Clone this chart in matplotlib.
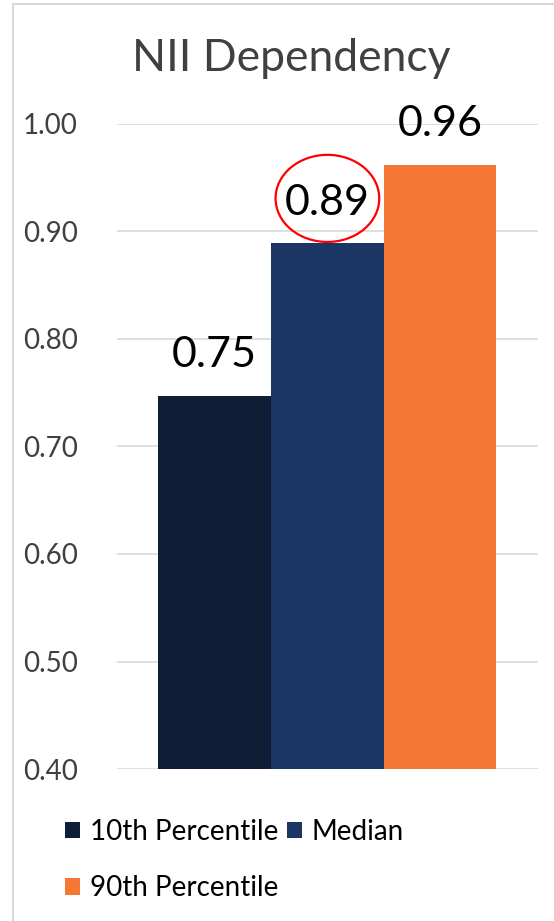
import matplotlib.pyplot as plt
from matplotlib.patches import Ellipse, Rectangle

plt.rcParams['font.family'] = ['Lato', 'DejaVu Sans']

series = ["10th Percentile", "Median", "90th Percentile"]
values = [0.747, 0.889, 0.962]
labels = ["0.75", "0.89", "0.96"]
colors = ["#0f1d36", "#1b3564", "#f47834"]
yticks = [0.40, 0.50, 0.60, 0.70, 0.80, 0.90, 1.00]

fig = plt.figure(figsize=(5.54, 9.21), dpi=100)
ax = fig.add_axes([0.211, 0.165, 0.76, 0.7005])

# chart border (right and bottom edges fall outside the picture)
fig.patches.append(Rectangle((13/554, -0.01), 1.1, 1.01 - 4/921, transform=fig.transFigure,
                             fill=False, edgecolor="#d9d9d9", linewidth=1.5))

bars = []
for i, (s, v, c) in enumerate(zip(series, values, colors)):
    b = ax.bar(i - 1, v - 0.40, bottom=0.40, width=1.0, color=c, label=s, zorder=3)
    bars.append(b)
    ax.text(i - 1, v + 0.02, labels[i], ha="center", va="bottom",
            fontsize=31, color="black", zorder=4)

# red circle around the median label
ax.add_patch(Ellipse((0, 0.9307), 0.92, 0.081, fill=False, edgecolor="#ff0000",
                     linewidth=1.6, zorder=5, clip_on=False))

ax.set_ylim(0.40, 1.00)
ax.set_xlim(-1.868, 1.868)
ax.set_yticks(yticks)
ax.set_yticklabels([f"{t:.2f}" for t in yticks], fontsize=20, color="#404040")
ax.tick_params(axis="y", length=0, pad=28)
ax.set_xticks([])
ax.grid(axis="y", color="#d9d9d9", linewidth=1.2, zorder=0)
for sp in ax.spines.values():
    sp.set_visible(False)

fig.text(0.525, 0.936, "NII Dependency", ha="center", va="center",
         fontsize=32, color="#404040")

# order so that ncol=2 fills rows like the original
h = [bars[0], bars[2], bars[1]]
l = [series[0], series[2], series[1]]
fig.legend(h, l, ncol=2, loc="upper left", bbox_to_anchor=(0.092, 0.126),
           frameon=False, fontsize=20, handlelength=0.55, handleheight=0.55,
           handletextpad=0.35, columnspacing=0.3, labelspacing=1.1, borderpad=0)

fig.savefig("out.png", dpi=100)
